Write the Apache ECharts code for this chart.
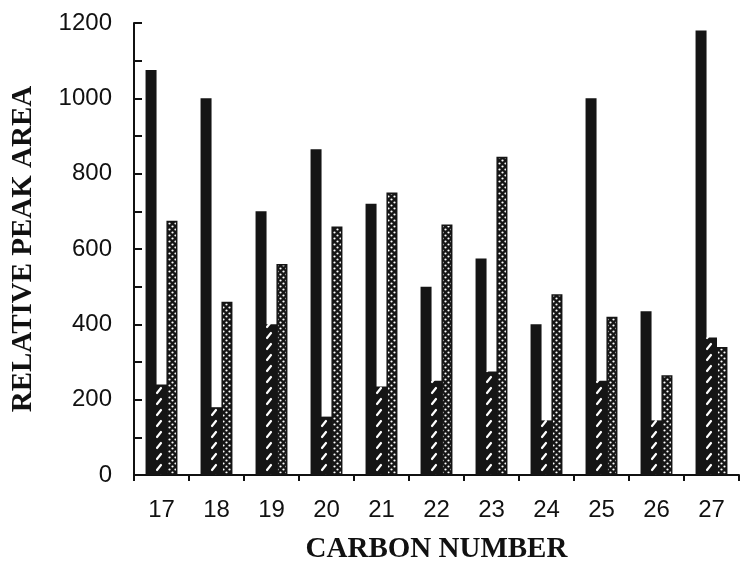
<!DOCTYPE html>
<html><head><meta charset="utf-8">
<script src="https://cdn.jsdelivr.net/npm/echarts@6/dist/echarts.min.js"></script>
<style>html,body{margin:0;padding:0;background:#fff}#c{width:741px;height:569px}</style>
</head><body><div id="c"></div>
<script>
const categories = ['17','18','19','20','21','22','23','24','25','26','27'];
const solidValues = [1075,1000,700,865,720,500,575,400,1000,435,1180];
const hatchedValues = [240,180,400,155,235,250,275,145,250,145,365];
const dottedValues = [675,460,560,660,750,665,845,480,420,265,340];
const yTicks = [0,200,400,600,800,1000,1200];

function hatchPattern(){
  const c = document.createElement('canvas'); c.width = 11; c.height = 11;
  const g = c.getContext('2d');
  g.fillStyle = '#151515'; g.fillRect(0,0,11,11);
  g.strokeStyle = '#fff'; g.lineWidth = 2.2; g.lineCap = 'round';
  g.beginPath(); g.moveTo(3,8); g.lineTo(7,3); g.stroke();
  return c;
}
function dotPattern(){
  const c = document.createElement('canvas'); c.width = 6; c.height = 6;
  const g = c.getContext('2d');
  g.fillStyle = '#151515'; g.fillRect(0,0,6,6);
  g.fillStyle = '#fff';
  g.beginPath(); g.arc(1.5,1.5,1.1,0,Math.PI*2); g.fill();
  g.beginPath(); g.arc(4.5,4.5,1.1,0,Math.PI*2); g.fill();
  return c;
}

const chart = echarts.init(document.getElementById('c'), null, {renderer:'canvas'});
const axisFont = {fontFamily:'Liberation Sans, Arial, sans-serif', fontSize:24, color:'#111'};
const titleFont = {fontFamily:'Liberation Serif, Times New Roman, serif', fontWeight:'bold', fontSize:29, color:'#111'};
chart.setOption({
  animation:false,
  backgroundColor:'#fff',
  grid:{left:134, right:2, top:23, bottom:92},
  xAxis:{
    type:'category', data:categories,
    name:'CARBON NUMBER', nameLocation:'middle', nameGap:60, nameTextStyle:titleFont,
    axisLine:{lineStyle:{color:'#111', width:2}},
    axisTick:{show:true, length:6, lineStyle:{color:'#111', width:2}},
    axisLabel:Object.assign({margin:23}, axisFont)
  },
  yAxis:{
    type:'value', min:0, max:1200, interval:100,
    name:'RELATIVE PEAK AREA', nameLocation:'middle', nameGap:96, nameTextStyle:titleFont,
    axisLine:{show:true, lineStyle:{color:'#111', width:2}},
    axisTick:{show:true, inside:true, length:8, lineStyle:{color:'#111', width:2}},
    splitLine:{show:false},
    axisLabel:Object.assign({margin:22, formatter:v => yTicks.includes(v) ? String(v) : ''}, axisFont)
  },
  series:[
    {type:'bar', data:solidValues, barWidth:11, barGap:'-5%', itemStyle:{color:'#151515'}},
    {type:'bar', data:hatchedValues, barWidth:11, barGap:'-5%', itemStyle:{color:{image:hatchPattern(), repeat:'repeat'}}},
    {type:'bar', data:dottedValues, barWidth:11, barGap:'-5%', itemStyle:{color:{image:dotPattern(), repeat:'repeat'}, borderColor:'#151515', borderWidth:1.5}}
  ]
});
</script></body></html>
